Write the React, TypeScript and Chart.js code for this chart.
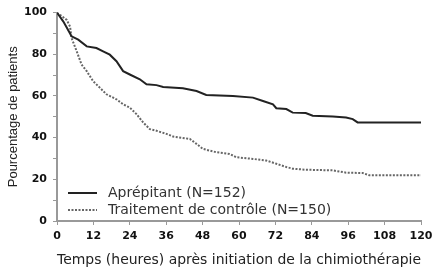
import React, { useEffect, useRef } from "react";
import { Chart, registerables } from "chart.js";

Chart.register(...registerables);

// Hours since start of chemotherapy (Kaplan–Meier style curves)
const aprepitantHours = [0, 2.1, 4.3, 4.8, 7, 9.8, 13, 15.2, 17.4, 19.6, 21.8, 24, 27.3, 29.5, 32.8, 35, 41.5, 46, 49.2, 58, 64.6, 67.9, 71.2, 72.3, 75.6, 77.7, 82, 84.3, 90.9, 95.3, 97.5, 99.1, 120];
const aprepitantPct = [100, 95.7, 90, 88.6, 87, 83.8, 83, 81.4, 79.8, 76.7, 71.9, 70.3, 68, 65.6, 65.2, 64.3, 63.7, 62.4, 60.5, 60, 59.2, 57.6, 56, 54.1, 53.7, 52, 51.8, 50.5, 50.1, 49.7, 48.9, 47.3, 47.3];

const controlHours = [0, 3.2, 4.3, 4.8, 6.5, 8.1, 9.8, 11.9, 14.1, 16.3, 19.6, 21.8, 24, 26.2, 28.4, 30.6, 32.8, 36.1, 38.3, 43.8, 46, 48.1, 52.5, 56.9, 59.1, 64.6, 69, 72.3, 75.6, 77.7, 82, 90.9, 95.3, 100.8, 103, 120];
const controlPct = [100, 96.5, 93.3, 87.8, 81.4, 75.1, 71.9, 67.1, 64, 60.8, 58.4, 56, 54.4, 51.3, 47.3, 44.1, 43.3, 41.8, 40.5, 39.4, 37, 34.6, 33, 32.2, 30.6, 29.8, 29, 27.5, 25.9, 25.1, 24.6, 24.3, 23.2, 23, 21.9, 21.9];

const seriesLabels = ["Aprépitant (N=152)", "Traitement de contrôle (N=150)"];
const xTicks = [0, 12, 24, 36, 48, 60, 72, 84, 96, 108, 120];
const yTicks = [0, 10, 20, 30, 40, 50, 60, 70, 80, 90, 100];
const yLabelStep = 20;
const xTitle = "Temps (heures) après initiation de la chimiothérapie";
const yTitle = "Pourcentage de patients";

const FONT = "'Liberation Sans', Arial, sans-serif";
const WIDE = "'DejaVu Sans', Verdana, sans-serif";

const toPoints = (xs: number[], ys: number[]) => xs.map((x, i) => ({ x, y: ys[i] }));

// Legend drawn inside the plot area, lower left
const innerLegend = {
  id: "innerLegend",
  afterDraw(chart: any) {
    const { ctx, chartArea } = chart;
    const x0 = chartArea.left + 11;
    const lineLen = 29;
    const rows = [chartArea.bottom - 28, chartArea.bottom - 11];
    ctx.save();
    chart.data.datasets.forEach((ds: any, i: number) => {
      const y = rows[i];
      ctx.beginPath();
      ctx.strokeStyle = ds.borderColor;
      ctx.lineWidth = 2;
      ctx.setLineDash(ds.borderDash || []);
      ctx.moveTo(x0, y);
      ctx.lineTo(x0 + lineLen, y);
      ctx.stroke();
      ctx.setLineDash([]);
      ctx.fillStyle = "#333";
      ctx.font = `14px ${WIDE}`;
      ctx.textBaseline = "middle";
      ctx.textAlign = "left";
      ctx.fillText(ds.label, x0 + lineLen + 11, y);
    });
    ctx.restore();
  },
};

export default function App() {
  const canvasRef = useRef<HTMLCanvasElement | null>(null);

  useEffect(() => {
    if (!canvasRef.current) return;
    const chart = new Chart(canvasRef.current, {
      type: "line",
      data: {
        datasets: [
          {
            label: seriesLabels[0],
            data: toPoints(aprepitantHours, aprepitantPct),
            borderColor: "#222",
            borderWidth: 2,
            pointRadius: 0,
            tension: 0,
            fill: false,
          },
          {
            label: seriesLabels[1],
            data: toPoints(controlHours, controlPct),
            borderColor: "#666",
            borderWidth: 2,
            borderDash: [2, 1.5],
            pointRadius: 0,
            tension: 0,
            fill: false,
          },
        ],
      },
      options: {
        animation: false,
        responsive: false,
        maintainAspectRatio: false,
        layout: { padding: { left: 0, right: 25, top: 11, bottom: 0 } },
        plugins: {
          legend: { display: false },
          tooltip: { enabled: false },
        },
        scales: {
          x: {
            type: "linear",
            min: 0,
            max: 120,
            afterBuildTicks: (scale: any) => {
              scale.ticks = xTicks.map((v) => ({ value: v }));
            },
            afterFit: (scale: any) => {
              scale.height = 48;
            },
            grid: {
              display: true,
              drawOnChartArea: false,
              drawTicks: true,
              tickLength: 4,
              color: "#999",
            },
            border: { display: true, color: "#999", width: 2 },
            ticks: {
              color: "#111",
              font: { family: WIDE, size: 11, weight: "bold" },
              padding: 5,
              maxRotation: 0,
              autoSkip: false,
            },
            title: {
              display: true,
              text: xTitle,
              color: "#222",
              font: { family: WIDE, size: 14 },
              padding: { top: 6, bottom: 0 },
            },
          },
          y: {
            type: "linear",
            min: 0,
            max: 100,
            afterBuildTicks: (scale: any) => {
              scale.ticks = yTicks.map((v) => ({ value: v }));
            },
            afterFit: (scale: any) => {
              scale.width = 57;
            },
            grid: {
              display: true,
              drawOnChartArea: false,
              drawTicks: true,
              tickLength: 4,
              color: "#999",
            },
            border: { display: true, color: "#999", width: 2 },
            ticks: {
              color: "#111",
              font: { family: WIDE, size: 11, weight: "bold" },
              padding: 6,
              autoSkip: false,
              callback: (v: any) => (Number(v) % yLabelStep === 0 ? String(v) : ""),
            },
            title: {
              display: true,
              text: yTitle,
              color: "#222",
              font: { family: FONT, size: 13 },
              padding: { top: 6, bottom: 4 },
            },
          },
        },
      },
      plugins: [innerLegend],
    });
    return () => chart.destroy();
  }, []);

  return (
    <div style={{ position: "fixed", left: 0, top: 0, width: 446, height: 269, background: "#fff" }}>
      <canvas ref={canvasRef} width={446} height={269} style={{ display: "block" }} />
    </div>
  );
}
